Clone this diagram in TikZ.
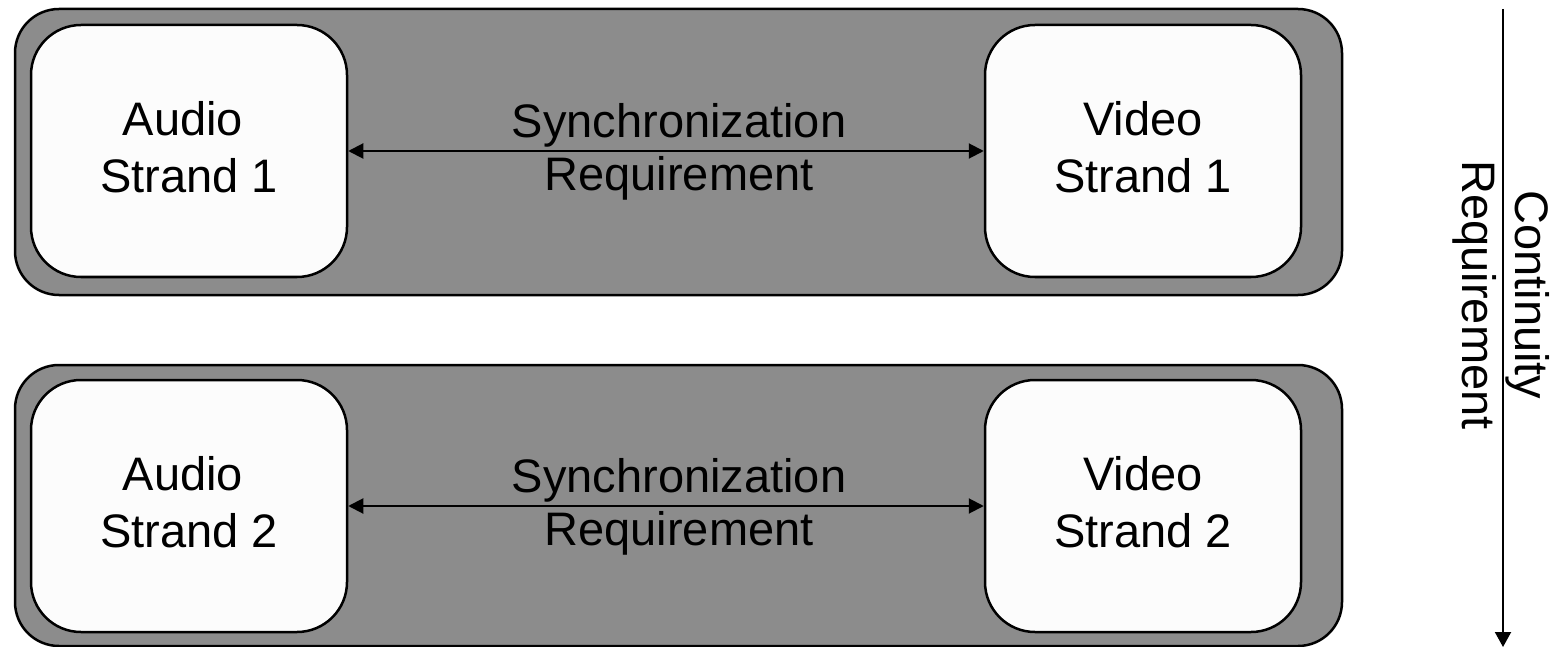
\documentclass[tikz,border=0pt]{standalone}
\usepackage{fontspec}
\setmainfont{Liberation Sans}
\usetikzlibrary{arrows.meta}
\definecolor{bandgray}{RGB}{140,140,140}
\definecolor{boxwhite}{RGB}{252,252,252}
\tikzset{
  band/.style={draw=black, line width=2.5pt, fill=bandgray, rounded corners=44pt,
               minimum width=1327pt, inner sep=0pt},
  strand/.style={draw=black, line width=2.5pt, fill=boxwhite, rounded corners=50pt,
                 minimum width=316pt, minimum height=252pt, inner sep=0pt,
                 text depth=9pt, align=center, font=\fontsize{47}{57}\selectfont},
  label/.style={align=center, inner sep=0pt, font=\fontsize{47}{53}\selectfont},
  link/.style={line width=2pt, {Triangle[length=15pt,width=15pt]}-{Triangle[length=15pt,width=15pt]}},
  flow/.style={line width=2pt, -{Triangle[length=15pt,width=16pt]}}
}
\begin{document}
\begin{tikzpicture}[x=1pt,y=-1pt]
\useasboundingbox (0,0) rectangle (1556,647);

% upper group
\node[band, minimum height=286pt] (band1) at (678.5,152) {};
\node[strand] (audio1) at (189,151) {Audio\makebox[12pt]{}\\Strand 1};
\node[strand] (video1) at (1143,151) {Video\\Strand 1};
\node[label] (sync1) at (679,151.5) {Synchronization\\Requirement};
\draw[link] (audio1) -- (video1);

% lower group
\node[band, minimum height=281pt] (band2) at (678.5,505.5) {};
\node[strand] (audio2) at (189,506) {Audio\makebox[12pt]{}\\Strand 2};
\node[strand] (video2) at (1143,506) {Video\\Strand 2};
\node[label] (sync2) at (679,506.5) {Synchronization\\Requirement};
\draw[link] (audio2) -- (video2);

% continuity axis
\coordinate (ctop) at (1503,9);
\coordinate (cbot) at (1503,647);
\draw[flow] (ctop) -- (cbot);
\node[label, rotate=-90] (cont) at (1501,295) {Continuity\\Requirement};
\end{tikzpicture}
\end{document}
